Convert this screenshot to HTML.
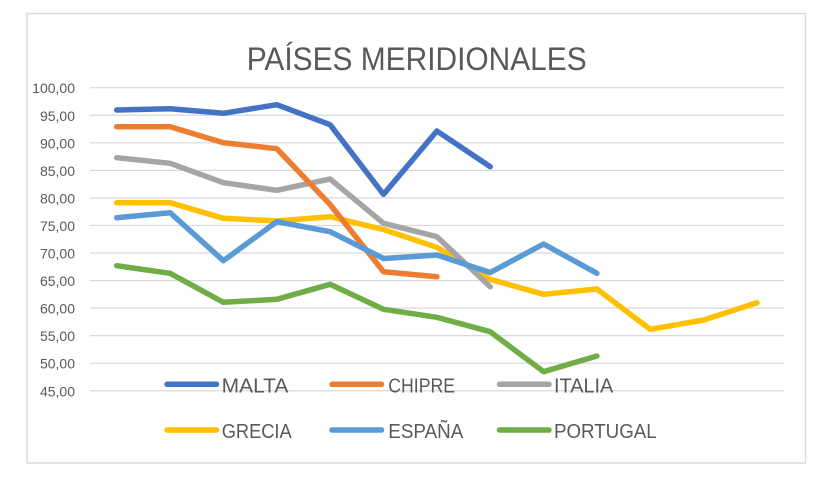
<!DOCTYPE html>
<html>
<head>
<meta charset="utf-8">
<style>
html,body{margin:0;padding:0;background:#fff;}
svg{display:block;}
text{font-family:"Liberation Sans","DejaVu Sans",sans-serif;fill:#595959;}
</style>
</head>
<body>
<svg width="838" height="477" viewBox="0 0 838 477" xmlns="http://www.w3.org/2000/svg">
<rect x="0" y="0" width="838" height="477" fill="#fff"/>
<rect x="27" y="13.5" width="778.5" height="449.5" fill="#fff" stroke="#d9d9d9" stroke-width="1.4"/>

<text x="246.7" y="70" font-size="32" textLength="340" lengthAdjust="spacingAndGlyphs">PAÍSES MERIDIONALES</text>

<g stroke="#d9d9d9" stroke-width="1.2">
<line x1="90" x2="784" y1="87.7" y2="87.7"/>
<line x1="90" x2="784" y1="115.25" y2="115.25"/>
<line x1="90" x2="784" y1="142.8" y2="142.8"/>
<line x1="90" x2="784" y1="170.35" y2="170.35"/>
<line x1="90" x2="784" y1="197.9" y2="197.9"/>
<line x1="90" x2="784" y1="225.45" y2="225.45"/>
<line x1="90" x2="784" y1="253.0" y2="253.0"/>
<line x1="90" x2="784" y1="280.55" y2="280.55"/>
<line x1="90" x2="784" y1="308.1" y2="308.1"/>
<line x1="90" x2="784" y1="335.65" y2="335.65"/>
<line x1="90" x2="784" y1="363.2" y2="363.2"/>
<line x1="90" x2="784" y1="390.75" y2="390.75"/>
</g>

<g font-size="14" text-anchor="end">
<text x="75" y="93.2">100,00</text>
<text x="75" y="120.8">95,00</text>
<text x="75" y="148.3">90,00</text>
<text x="75" y="175.9">85,00</text>
<text x="75" y="203.4">80,00</text>
<text x="75" y="231.0">75,00</text>
<text x="75" y="258.5">70,00</text>
<text x="75" y="286.1">65,00</text>
<text x="75" y="313.6">60,00</text>
<text x="75" y="341.2">55,00</text>
<text x="75" y="368.7">50,00</text>
<text x="75" y="396.3">45,00</text>
</g>

<g fill="none" stroke-width="5.5" stroke-linecap="round" stroke-linejoin="round">
<!-- GRECIA -->
<polyline stroke="#FFC000" points="116.7,202.7 170.1,202.7 223.4,218.3 276.8,221 330.1,216.7 383.5,229.5 436.9,247.3 490.2,279.3 543.6,294.3 596.9,289 650.3,329.3 703.7,320 757,302.7"/>
<!-- ITALIA -->
<polyline stroke="#A5A5A5" points="116.7,157.7 170.1,163.3 223.4,182.7 276.8,190.3 330.1,179 383.5,223.3 436.9,236.7 490.2,286.7"/>
<!-- CHIPRE -->
<polyline stroke="#ED7D31" points="116.7,126.7 170.1,126.7 223.4,142.7 276.8,148.7 330.1,204.5 383.5,271.7 436.9,276.7"/>
<!-- ESPAÑA -->
<polyline stroke="#5B9BD5" points="116.7,217.7 170.1,212.7 223.4,260.7 276.8,221.7 330.1,231.7 383.5,258.5 436.9,255 490.2,272.5 543.6,244 596.9,273.3"/>
<!-- PORTUGAL -->
<polyline stroke="#70AD47" points="116.7,265.7 170.1,273.3 223.4,302.3 276.8,299.3 330.1,284.3 383.5,309.3 436.9,317.3 490.2,331.7 543.6,371.7 596.9,356"/>
<!-- MALTA -->
<polyline stroke="#4472C4" points="116.7,110 170.1,108.7 223.4,113.3 276.8,104.7 330.1,124.7 383.5,194.3 436.9,131 490.2,166.7"/>
</g>

<g stroke-width="5.5" stroke-linecap="round">
<line x1="167" x2="216.5" y1="384.3" y2="384.3" stroke="#4472C4"/>
<line x1="332" x2="381.5" y1="384.3" y2="384.3" stroke="#ED7D31"/>
<line x1="499.5" x2="549" y1="384.3" y2="384.3" stroke="#A5A5A5"/>
<line x1="167" x2="216.5" y1="430" y2="430" stroke="#FFC000"/>
<line x1="332" x2="381.5" y1="430" y2="430" stroke="#5B9BD5"/>
<line x1="499.5" x2="549" y1="430" y2="430" stroke="#70AD47"/>
</g>
<g font-size="20">
<text x="221.7" y="392.3" textLength="66.7" lengthAdjust="spacingAndGlyphs">MALTA</text>
<text x="388.3" y="392.3" textLength="66.7" lengthAdjust="spacingAndGlyphs">CHIPRE</text>
<text x="554" y="392.3" textLength="59.3" lengthAdjust="spacingAndGlyphs">ITALIA</text>
<text x="221.7" y="438" textLength="70" lengthAdjust="spacingAndGlyphs">GRECIA</text>
<text x="388.3" y="438" textLength="75" lengthAdjust="spacingAndGlyphs">ESPAÑA</text>
<text x="554" y="438" textLength="102.7" lengthAdjust="spacingAndGlyphs">PORTUGAL</text>
</g>
</svg>
</body>
</html>
